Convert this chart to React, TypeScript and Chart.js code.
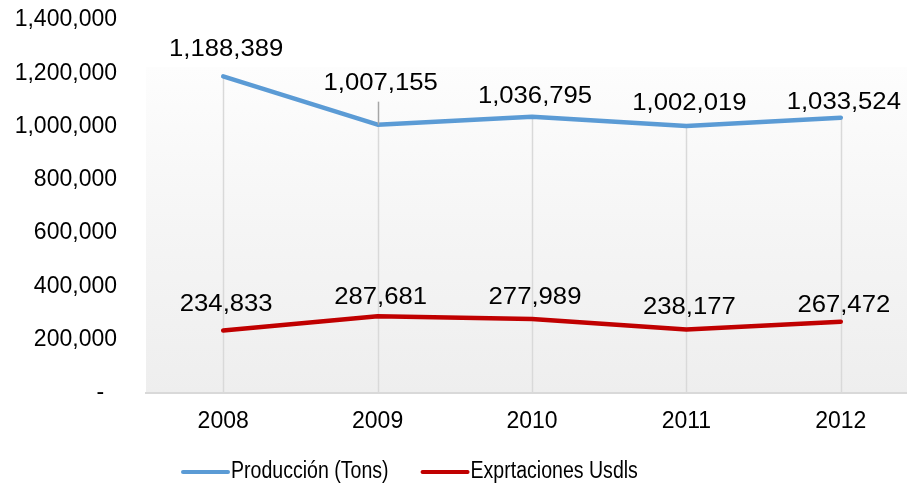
import React, { useEffect, useRef } from "react";
import { Chart, registerables } from "chart.js";
Chart.register(...registerables);

const categories = ["2008", "2009", "2010", "2011", "2012"];
const produccion = [1188389, 1007155, 1036795, 1002019, 1033524];
const exportaciones = [234833, 287681, 277989, 238177, 267472];
const seriesNames = ["Producción (Tons)", "Exprtaciones Usdls"];
const seriesColors = ["#5b9bd5", "#c00000"];
const yMin = 0;
const yMax = 1400000;
const yStep = 200000;
// vertical lift (px) of each data label above its point
const prodLabelLift = [27, 41, 20, 23, 15];
const expLabelLift = [26, 19, 22, 22, 16];

const FONT = '"Liberation Sans", Arial, sans-serif';
const fmt = (v: number) => v.toLocaleString("en-US");

const bgPlugin = {
  id: "bgPlot",
  beforeDraw(chart: any) {
    const { ctx, chartArea } = chart;
    const { left, right, bottom } = chartArea;
    const top = chartArea.top + 47;
    const g = ctx.createLinearGradient(0, top, 0, bottom);
    g.addColorStop(0, "#fdfdfd");
    g.addColorStop(0.5, "#f5f5f5");
    g.addColorStop(1, "#eeeeee");
    ctx.save();
    ctx.fillStyle = g;
    ctx.fillRect(left, top, right - left, bottom - top);
    ctx.restore();
  },
  beforeDatasetsDraw(chart: any) {
    const { ctx, chartArea } = chart;
    const m0 = chart.getDatasetMeta(0);
    const m1 = chart.getDatasetMeta(1);
    ctx.save();
    ctx.strokeStyle = "#d9d9d9";
    ctx.lineWidth = 1.5;
    m0.data.forEach((p: any, i: number) => {
      const yTop = Math.min(p.y, m1.data[i].y);
      ctx.beginPath();
      ctx.moveTo(Math.round(p.x) + 0.5, yTop);
      ctx.lineTo(Math.round(p.x) + 0.5, chartArea.bottom);
      ctx.stroke();
    });
    ctx.restore();
  },
  afterDatasetsDraw(chart: any) {
    const { ctx } = chart;
    ctx.save();
    ctx.font = `24px ${FONT}`;
    ctx.fillStyle = "#000";
    ctx.textAlign = "center";
    ctx.textBaseline = "middle";
    const lifts = [prodLabelLift, expLabelLift];
    [0, 1].forEach((di) => {
      const meta = chart.getDatasetMeta(di);
      const vals = chart.data.datasets[di].data;
      meta.data.forEach((p: any, i: number) => {
        const lift = lifts[di][i];
        if (lift > 35) {
          ctx.save();
          ctx.strokeStyle = "#a6a6a6";
          ctx.lineWidth = 1.5;
          ctx.beginPath();
          ctx.moveTo(Math.round(p.x) + 0.5, p.y - lift + 18);
          ctx.lineTo(Math.round(p.x) + 0.5, p.y);
          ctx.stroke();
          ctx.restore();
        }
        ctx.save();
        ctx.translate(p.x + 3, p.y - lift);
        ctx.scale(1.07, 1);
        ctx.fillText(fmt(vals[i]), 0, 0);
        ctx.restore();
      });
    });
    ctx.restore();
  },
  afterDraw(chart: any) {
    const { ctx } = chart;
    ctx.save();
    ctx.font = `23px ${FONT}`;
    ctx.textBaseline = "middle";
    ctx.textAlign = "left";
    const sx = 0.85;
    let x = 183;
    const y = 472;
    seriesNames.forEach((name, i) => {
      ctx.strokeStyle = seriesColors[i];
      ctx.lineWidth = 4;
      ctx.lineCap = "round";
      ctx.beginPath();
      ctx.moveTo(x, y);
      ctx.lineTo(x + 45, y);
      ctx.stroke();
      x += 48;
      ctx.fillStyle = "#000";
      ctx.save();
      ctx.translate(x, y);
      ctx.scale(sx, 1);
      ctx.fillText(name, 0, 0);
      ctx.restore();
      x += ctx.measureText(name).width * sx + 34;
    });
    ctx.restore();
  },
};

export default function App() {
  const ref = useRef<HTMLCanvasElement | null>(null);
  useEffect(() => {
    document.body.style.margin = "0";
    const canvas = ref.current!;
    const chart = new Chart(canvas, {
      type: "line",
      data: {
        labels: categories,
        datasets: [
          {
            label: seriesNames[0],
            data: produccion,
            borderColor: seriesColors[0],
            backgroundColor: seriesColors[0],
            borderWidth: 4.5,
            pointRadius: 0,
            tension: 0,
            borderCapStyle: "round",
            borderJoinStyle: "round",
          },
          {
            label: seriesNames[1],
            data: exportaciones,
            borderColor: seriesColors[1],
            backgroundColor: seriesColors[1],
            borderWidth: 4.5,
            pointRadius: 0,
            tension: 0,
            borderCapStyle: "round",
            borderJoinStyle: "round",
          },
        ],
      },
      options: {
        animation: false,
        responsive: false,
        maintainAspectRatio: false,
        layout: { padding: { top: 20, left: 0, right: 2, bottom: 0 } },
        plugins: {
          legend: { display: false },
          tooltip: { enabled: false },
        },
        scales: {
          x: {
            offset: true,
            grid: { display: false, drawTicks: false },
            border: { display: true, color: "#d9d9d9", width: 2 },
            ticks: {
              color: "#000",
              font: { family: FONT, size: 23 },
              padding: 15,
              maxRotation: 0,
            },
            afterFit(scale: any) {
              scale.height = 94;
              scale.paddingLeft = 0;
              scale.paddingRight = 0;
            },
          },
          y: {
            min: yMin,
            max: yMax,
            grid: { display: false, drawTicks: false },
            border: { display: false },
            ticks: {
              stepSize: yStep,
              color: "#000",
              font: { family: FONT, size: 23 },
              padding: 29,
              callback: (v: any) => (Number(v) === 0 ? "-  " : fmt(Number(v))),
            },
            afterFit(scale: any) {
              scale.width = 146;
              scale.paddingTop = 0;
              scale.paddingBottom = 0;
            },
          },
        },
      },
      plugins: [bgPlugin],
    });
    return () => chart.destroy();
  }, []);
  return (
    <div style={{ width: 907, height: 487, overflow: "hidden" }}>
      <canvas ref={ref} width={920} height={487} style={{ display: "block" }} />
    </div>
  );
}
